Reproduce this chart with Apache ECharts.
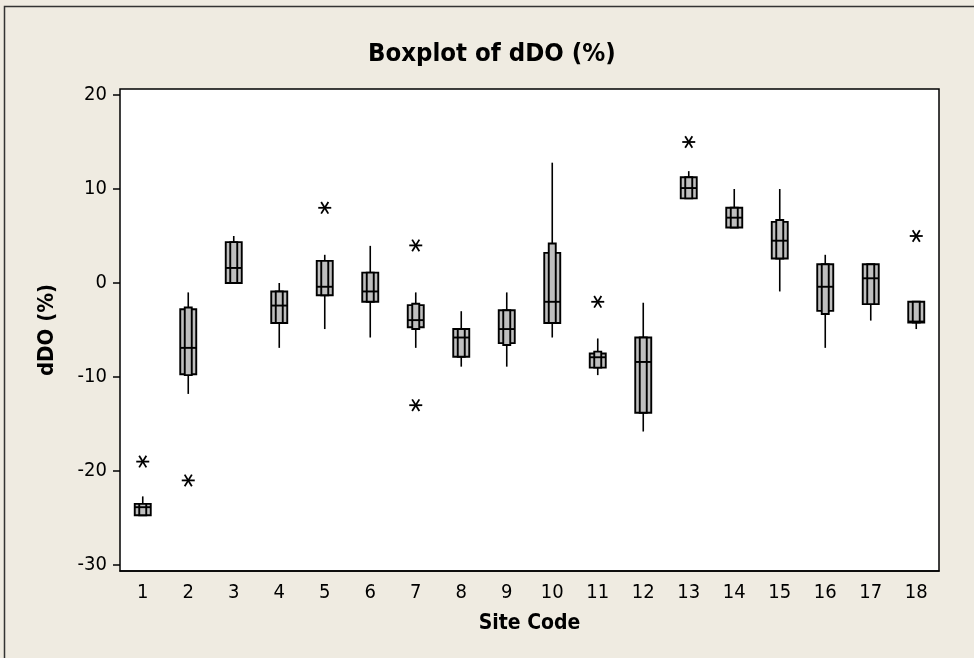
<!DOCTYPE html>
<html>
<head>
<meta charset="utf-8">
<script src="https://cdn.jsdelivr.net/npm/echarts@6/dist/echarts.min.js"></script>
<style>html,body{margin:0;padding:0;background:#EFEBE1;}#chart{width:974px;height:658px;}</style>
</head>
<body>
<div id="chart"></div>
<script>
const siteCodes = ['1','2','3','4','5','6','7','8','9','10','11','12','13','14','15','16','17','18'];
const whiskerLow  = [-24.7, -11.8, 0.0, -6.9, -4.9, -5.8, -6.9, -8.9, -8.9, -5.8, -9.8, -15.8, 9.0, 5.9, -0.9, -6.9, -4.0, -4.9];
const q1          = [-24.7, -9.7, 0.0, -4.25, -1.3, -2.0, -4.7, -7.85, -6.4, -4.25, -9.0, -13.8, 9.0, 5.9, 2.6, -2.97, -2.25, -4.2];
const median      = [-23.85, -6.9, 1.6, -2.4, -0.4, -0.9, -3.95, -5.8, -4.9, -2.0, -7.9, -8.4, 10.1, 6.95, 4.5, -0.4, 0.5, -4.1];
const q3          = [-23.5, -2.8, 4.35, -0.9, 2.35, 1.1, -2.35, -4.9, -2.9, 3.2, -7.5, -5.8, 11.25, 8.0, 6.5, 2.0, 2.0, -2.0];
const whiskerHigh = [-22.7, -1.0, 5.0, 0.0, 3.0, 3.95, -1.0, -3.0, -1.0, 12.8, -5.9, -2.1, 11.9, 10.0, 10.0, 3.0, 2.0, -2.0];
const ciLow       = [-24.7, -9.8, 0.0, -4.25, -1.3, -2.0, -4.9, -7.85, -6.6, -4.25, -9.0, -13.8, 9.0, 5.9, 2.6, -3.3, -2.25, -4.2];
const ciHigh      = [-23.5, -2.6, 4.35, -0.9, 2.35, 1.1, -2.2, -4.9, -2.9, 4.2, -7.3, -5.8, 11.25, 8.0, 6.7, 2.0, 2.0, -2.0];
const outlierSite  = [1, 2, 5, 7, 7, 11, 13, 18];
const outlierValue = [-19, -21, 8, 4, -13, -2, 15, 5];
const yTicks = [-30, -20, -10, 0, 10, 20];

const FONT = "'DejaVu Sans Condensed', 'Noto Sans', sans-serif";
const boxData = siteCodes.map((s, i) => [i, whiskerLow[i], q1[i], median[i], q3[i], whiskerHigh[i], ciLow[i], ciHigh[i]]);
const outlierData = outlierSite.map((s, k) => [s - 1, outlierValue[k]]);

const chart = echarts.init(document.getElementById('chart'), null, {renderer: 'canvas'});
const line = (x1, y1, x2, y2, w) => ({type: 'line', shape: {x1, y1, x2, y2}, style: {stroke: '#000', lineWidth: w}});

chart.setOption({
  backgroundColor: '#EFEBE1',
  animation: false,
  title: {
    text: 'Boxplot of dDO (%)', left: 368, top: 41, padding: 0,
    textStyle: {fontFamily: FONT, fontSize: 25.5, fontWeight: 'bold', color: '#000'}
  },
  graphic: [
    {type: 'rect', z: -10, silent: true, shape: {x: 4.5, y: 6.5, width: 1200, height: 1200}, style: {fill: 'none', stroke: '#333', lineWidth: 1.5}},
    {type: 'rect', z: -5, silent: true, shape: {x: 120, y: 89, width: 819, height: 482}, style: {fill: '#fff', stroke: '#000', lineWidth: 1.5}}
  ],
  grid: {left: 120, right: 35, top: 95, bottom: 93},
  xAxis: {
    type: 'category', data: siteCodes, boundaryGap: true, offset: 6,
    name: 'Site Code', nameLocation: 'middle', nameGap: 42,
    nameTextStyle: {fontFamily: FONT, fontSize: 21, fontWeight: 'bold', color: '#000'},
    axisLine: {onZero: false, lineStyle: {color: '#000', width: 1.5}},
    axisTick: {alignWithLabel: true, length: 7, lineStyle: {color: '#000', width: 1.5}},
    axisLabel: {fontFamily: FONT, fontSize: 20, color: '#000', margin: 12},
    splitLine: {show: false}
  },
  yAxis: {
    type: 'value', min: yTicks[0], max: yTicks[yTicks.length - 1], interval: 10,
    name: 'dDO (%)', nameLocation: 'middle', nameGap: 62,
    nameTextStyle: {fontFamily: FONT, fontSize: 22, fontWeight: 'bold', color: '#000'},
    axisLine: {show: false},
    axisTick: {show: true, length: 7, lineStyle: {color: '#000', width: 1.5}},
    axisLabel: {fontFamily: FONT, fontSize: 20, color: '#000', margin: 13},
    splitLine: {show: false}
  },
  series: [
    {
      type: 'custom', name: 'dDO', data: boxData, z: 5,
      encode: {x: 0, y: [1, 2, 3, 4, 5, 6, 7]},
      renderItem: function (params, api) {
        const i = api.value(0);
        const c = (v) => api.coord([i, v]);
        const pLow = c(api.value(1)), pQ1 = c(api.value(2)), pMed = c(api.value(3)),
              pQ3 = c(api.value(4)), pHigh = c(api.value(5)), pCL = c(api.value(6)), pCH = c(api.value(7));
        const cx = pMed[0];
        const ho = 8, hi = 3.5;
        const boxStyle = {fill: '#BFBFBF', stroke: '#000', lineWidth: 1.9};
        return {
          type: 'group',
          children: [
            line(cx, pLow[1], cx, pHigh[1], 1.6),
            {type: 'rect', shape: {x: cx - ho, y: pQ3[1], width: 2 * ho, height: pQ1[1] - pQ3[1]}, style: boxStyle},
            {type: 'rect', shape: {x: cx - hi, y: pCH[1], width: 2 * hi, height: pCL[1] - pCH[1]}, style: boxStyle},
            line(cx - ho, pMed[1], cx + ho, pMed[1], 1.9)
          ]
        };
      }
    },
    {
      type: 'custom', name: 'Outliers', data: outlierData, z: 6,
      encode: {x: 0, y: 1},
      renderItem: function (params, api) {
        const p = api.coord([api.value(0), api.value(1)]);
        const r = 6.5, dx = 3.6, dy = 5.8;
        return {
          type: 'group',
          children: [
            line(p[0] - r, p[1], p[0] + r, p[1], 1.8),
            line(p[0] - dx, p[1] - dy, p[0] + dx, p[1] + dy, 1.8),
            line(p[0] - dx, p[1] + dy, p[0] + dx, p[1] - dy, 1.8)
          ]
        };
      }
    }
  ]
});
</script>
</body>
</html>
